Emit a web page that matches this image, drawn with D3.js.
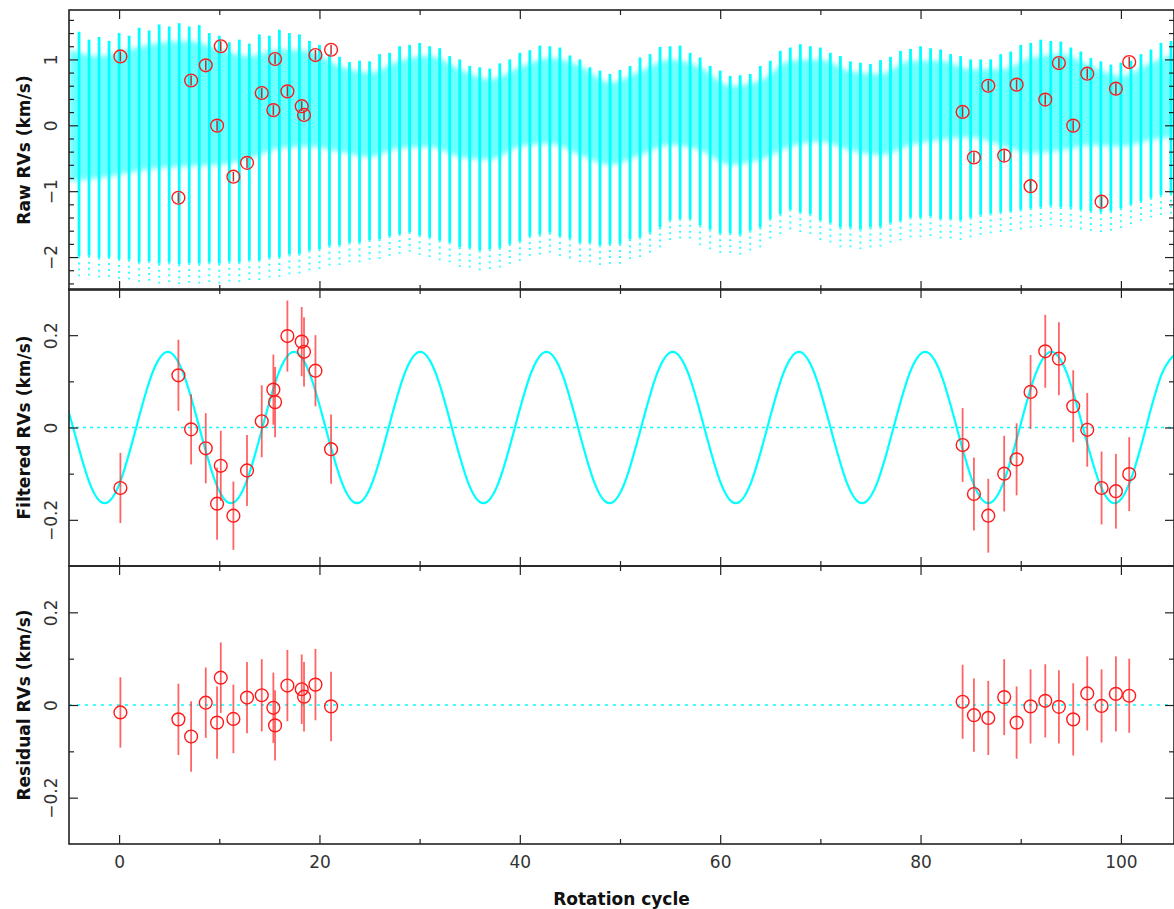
<!DOCTYPE html>
<html><head><meta charset="utf-8">
<script src="https://cdn.jsdelivr.net/npm/d3@7"></script>
<style>
body{margin:0;background:#fff}
svg{display:block}
text{font-family:"DejaVu Sans",sans-serif}
</style>
</head><body>
<svg id="c" width="1174" height="909"></svg>
<script>
// ---------------- data ----------------
const obsCycle = [0.13, 5.92, 7.19, 8.65, 9.78, 10.15, 11.41, 12.77, 14.24, 15.40, 15.57, 16.80, 18.23, 18.46, 19.60, 21.16,
  84.20, 85.33, 86.76, 88.35, 89.59, 90.98, 92.45, 93.81, 95.24, 96.64, 98.07, 99.50, 100.83];
const rawRV = [1.045, -1.10, 0.68, 0.91, -0.005, 1.20, -0.78, -0.57, 0.49, 0.23, 1.006, 0.515, 0.29, 0.157, 1.066, 1.147,
  0.203, -0.489, 0.60, -0.46, 0.617, -0.924, 0.39, 0.945, -0.005, 0.783, -1.16, 0.556, 0.96];
const filteredRV = [-0.131, 0.113, -0.004, -0.045, -0.165, -0.083, -0.191, -0.093, 0.0135, 0.082, 0.055, 0.198, 0.186, 0.164, 0.123, -0.047,
  -0.038, -0.144, -0.191, -0.100, -0.069, 0.077, 0.165, 0.149, 0.046, -0.005, -0.131, -0.138, -0.101];
const residualRV = [-0.016, -0.031, -0.068, 0.005, -0.038, 0.059, -0.030, 0.016, 0.021, -0.006, -0.044, 0.042, 0.034, 0.018, 0.044, -0.003,
  0.007, -0.022, -0.028, 0.017, -0.038, -0.003, 0.009, -0.004, -0.031, 0.025, -0.002, 0.024, 0.020];
const rvError = [0.076, 0.077, 0.076, 0.076, 0.078, 0.076, 0.074, 0.077, 0.078, 0.076, 0.076, 0.077, 0.075, 0.075, 0.077, 0.075,
  0.080, 0.079, 0.080, 0.082, 0.078, 0.080, 0.079, 0.079, 0.078, 0.080, 0.079, 0.081, 0.080];

const modelCycle = [-6.165, -4.59, -3.015, -1.44, 0.135, 1.71, 3.285, 4.86, 6.435, 8.01, 9.585, 11.16, 12.735, 14.31, 15.885, 17.46, 19.035,
  20.61, 22.185, 23.76, 25.335, 26.91, 28.485, 30.06, 31.635, 33.21, 34.785, 36.36, 37.935, 39.51, 41.085, 42.66, 44.235,
  45.81, 47.385, 48.96, 50.535, 52.11, 53.685, 55.26, 56.835, 58.41, 59.985, 61.56, 63.135, 64.71, 66.285, 67.86, 69.435,
  71.01, 72.585, 74.16, 75.735, 77.31, 78.885, 80.46, 82.035, 83.61, 85.185, 86.76, 88.335, 89.91, 91.485, 93.06, 94.635,
  96.21, 97.785, 99.36, 100.935, 102.51, 104.085, 105.66];
const modelRV = [0.116, 0, -0.116, -0.164, -0.116, 0, 0.116, 0.164, 0.116, 0, -0.116, -0.164, -0.116, 0, 0.116, 0.164, 0.116,
  0, -0.116, -0.164, -0.116, 0, 0.116, 0.164, 0.116, 0, -0.116, -0.164, -0.116, 0, 0.116, 0.164, 0.116,
  0, -0.116, -0.164, -0.116, 0, 0.116, 0.164, 0.116, 0, -0.116, -0.164, -0.116, 0, 0.116, 0.164, 0.116,
  0, -0.116, -0.164, -0.116, 0, 0.116, 0.164, 0.116, 0, -0.116, -0.164, -0.116, 0, 0.116, 0.164, 0.116,
  0, -0.116, -0.164, -0.116, 0, 0.116, 0.164];

// raw activity model: one streak per rotation cycle (top / bottom of each streak)
const streakCycle = d3.range(-4, 106);
const streakTop = [1.42, 1.30, 1.34, 1.28, 1.40, 1.36, 1.48, 1.44, 1.53, 1.50, 1.55, 1.50, 1.52, 1.40, 1.36, 1.26, 1.30, 1.24, 1.38, 1.36,
  1.45, 1.40, 1.38, 1.28, 1.22, 1.08, 1.04, 0.96, 0.98, 0.97, 1.08, 1.10, 1.20, 1.22, 1.25, 1.20, 1.17, 1.05, 1.00, 0.90,
  0.88, 0.86, 0.94, 1.00, 1.10, 1.14, 1.21, 1.20, 1.18, 1.06, 1.00, 0.88, 0.83, 0.78, 0.84, 0.90, 1.03, 1.08, 1.19, 1.20,
  1.21, 1.10, 1.03, 0.90, 0.83, 0.75, 0.76, 0.78, 0.90, 0.98, 1.13, 1.18, 1.23, 1.20, 1.18, 1.10, 1.05, 0.97, 0.95, 0.93,
  0.99, 1.04, 1.13, 1.16, 1.20, 1.17, 1.15, 1.08, 1.05, 1.00, 1.00, 1.00, 1.08, 1.12, 1.22, 1.25, 1.30, 1.28, 1.27, 1.18,
  1.12, 1.02, 0.97, 0.92, 0.95, 0.98, 1.08, 1.15, 1.25, 1.28];
const streakBottom = [-2.29, -2.28, -2.31, -2.30, -2.33, -2.34, -2.38, -2.36, -2.40, -2.38, -2.41, -2.39, -2.40, -2.38, -2.40, -2.37, -2.38, -2.35, -2.35, -2.31,
  -2.30, -2.26, -2.25, -2.20, -2.18, -2.13, -2.12, -2.08, -2.08, -2.04, -2.03, -1.98, -1.95, -1.92, -1.97, -2.00, -2.05, -2.08, -2.15, -2.16,
  -2.20, -2.18, -2.16, -2.10, -2.06, -1.98, -1.96, -1.93, -1.98, -2.02, -2.08, -2.08, -2.12, -2.10, -2.10, -2.03, -2.00, -1.93, -1.85, -1.74,
  -1.72, -1.72, -1.82, -1.88, -1.94, -1.94, -1.96, -1.90, -1.85, -1.72, -1.65, -1.58, -1.62, -1.65, -1.74, -1.78, -1.85, -1.85, -1.88, -1.85,
  -1.84, -1.78, -1.75, -1.70, -1.70, -1.68, -1.72, -1.72, -1.74, -1.70, -1.66, -1.64, -1.62, -1.60, -1.58, -1.56, -1.54, -1.52, -1.54, -1.55,
  -1.58, -1.60, -1.62, -1.60, -1.56, -1.50, -1.45, -1.40, -1.36, -1.34];
// dense part of the raw model between the streaks
const bandCycle = [-5, -2, 1, 4, 7, 10, 13, 16, 19, 22, 25, 28, 31, 34, 37, 40, 43, 46, 49, 52, 55, 58, 61, 64, 67, 70, 73, 76, 79, 82, 85, 88, 91, 94, 97, 100, 103, 105.3];
const bandHigh = [1.15, 1.05, 1.15, 1.25, 1.28, 1.15, 1.05, 1.15, 1.12, 0.9, 0.8, 0.98, 1.05, 0.85, 0.7, 0.88, 1.02, 0.9, 0.65, 0.82, 1.0, 0.88, 0.6, 0.68, 0.98, 1.0, 0.82, 0.78, 0.98, 0.98, 0.85, 0.85, 1.02, 1.08, 0.9, 0.75, 0.95, 1.08];
const bandLow = [-0.85, -0.8, -0.72, -0.65, -0.62, -0.6, -0.5, -0.35, -0.32, -0.4, -0.48, -0.35, -0.33, -0.48, -0.52, -0.32, -0.28, -0.45, -0.6, -0.45, -0.3, -0.38, -0.6, -0.52, -0.32, -0.25, -0.38, -0.45, -0.3, -0.22, -0.18, -0.3, -0.42, -0.38, -0.3, -0.32, -0.22, -0.18];

const xMajorTicks = [0, 20, 40, 60, 80, 100];
const xMinorTicks = [10, 30, 50, 70, 90];
const rawMajorTicks = [1, 0, -1, -2];
const rawMinorTicks = [1.6, 1.4, 1.2, 0.8, 0.6, 0.4, 0.2, -0.2, -0.4, -0.6, -0.8, -1.2, -1.4, -1.6, -1.8, -2.2, -2.4];
const rvMajorTicks = [0.2, 0, -0.2];
const rvMinorTicks = [0.1, -0.1];
const yTitles = ["Raw RVs (km/s)", "Filtered RVs (km/s)", "Residual RVs (km/s)"];
const xTitle = "Rotation cycle";

// ---------------- layout ----------------
const svg = d3.select('#c');
const L = 69, R = 1174;
const x = d3.scaleLinear().domain([-5, 105.3]).range([L, R]);
const panels = [
  {top: 10, bottom: 290, domain: [-2.5, 1.75], major: rawMajorTicks, minor: rawMinorTicks},
  {top: 289, bottom: 566, domain: [-0.3, 0.3], major: rvMajorTicks, minor: rvMinorTicks},
  {top: 566, bottom: 844, domain: [-0.3, 0.3], major: rvMajorTicks, minor: rvMinorTicks}
];
const defs = svg.append('defs');
defs.append('filter').attr('id', 'soft').attr('x', '-5%').attr('y', '-20%').attr('width', '110%').attr('height', '140%')
  .append('feGaussianBlur').attr('stdDeviation', 2.5);
panels.forEach((p, i) => {
  p.y = d3.scaleLinear().domain(p.domain).range([p.bottom, p.top]);
  defs.append('clipPath').attr('id', 'clip' + i).append('rect')
    .attr('x', L).attr('y', p.top).attr('width', R - L).attr('height', p.bottom - p.top);
});
const CYAN = '#00ffff';
const obs = obsCycle.map((c, i) => ({c, raw: rawRV[i], f: filteredRV[i], r: residualRV[i], e: rvError[i]}));

// ---------------- panel 1: raw RVs ----------------
{
  const p = panels[0], y = p.y;
  const g = svg.append('g').attr('clip-path', 'url(#clip0)');
  const band = bandCycle.map((c, i) => ({c, hi: bandHigh[i], lo: bandLow[i]}));
  const bandArea = d3.area().x(d => x(d.c)).y0(d => y(d.lo)).y1(d => y(d.hi)).curve(d3.curveMonotoneX);
  g.append('path').datum(band).attr('d', bandArea)
    .attr('fill', CYAN).attr('fill-opacity', 0.58).attr('filter', 'url(#soft)');
  const st = streakCycle.map((c, i) => ({c, t: streakTop[i], b: streakBottom[i]}));
  g.selectAll('.sk').data(st).enter().append('line')
    .attr('x1', d => x(d.c)).attr('x2', d => x(d.c))
    .attr('y1', d => y(d.t)).attr('y2', d => y(d.b + 0.3))
    .attr('stroke', CYAN).attr('stroke-width', 2.8);
  g.selectAll('.sd').data(st).enter().append('line')
    .attr('x1', d => x(d.c)).attr('x2', d => x(d.c))
    .attr('y1', d => y(d.b + 0.3)).attr('y2', d => y(d.b))
    .attr('stroke', CYAN).attr('stroke-width', 2).attr('stroke-dasharray', '2,4').attr('opacity', 0.8);
  g.selectAll('.eb').data(obs).enter().append('line')
    .attr('x1', d => x(d.c)).attr('x2', d => x(d.c))
    .attr('y1', d => y(d.raw - d.e)).attr('y2', d => y(d.raw + d.e))
    .attr('stroke', '#c03030').attr('stroke-width', 1.5);
  g.selectAll('.pt').data(obs).enter().append('circle')
    .attr('cx', d => x(d.c)).attr('cy', d => y(d.raw)).attr('r', 6.4)
    .attr('fill', 'none').attr('stroke', '#ff1a1a').attr('stroke-width', 1.4);
}

// ---------------- panel 2: filtered ----------------
{
  const p = panels[1], y = p.y;
  const g = svg.append('g').attr('clip-path', 'url(#clip1)');
  g.append('line').attr('x1', L).attr('x2', R).attr('y1', y(0)).attr('y2', y(0))
    .attr('stroke', CYAN).attr('stroke-width', 1.5).attr('stroke-dasharray', '3,4');
  const model = modelCycle.map((c, i) => ({c, v: modelRV[i]}));
  g.append('path').datum(model)
    .attr('d', d3.line().x(d => x(d.c)).y(d => y(d.v)).curve(d3.curveNatural))
    .attr('fill', 'none').attr('stroke', CYAN).attr('stroke-width', 2.2);
  g.selectAll('.eb').data(obs).enter().append('line')
    .attr('x1', d => x(d.c)).attr('x2', d => x(d.c))
    .attr('y1', d => y(d.f - d.e)).attr('y2', d => y(d.f + d.e))
    .attr('stroke', '#ff3030').attr('stroke-width', 1.8).attr('opacity', 0.75);
  g.selectAll('.pt').data(obs).enter().append('circle')
    .attr('cx', d => x(d.c)).attr('cy', d => y(d.f)).attr('r', 6.4)
    .attr('fill', 'none').attr('stroke', '#ff1a1a').attr('stroke-width', 1.4);
}

// ---------------- panel 3: residuals ----------------
{
  const p = panels[2], y = p.y;
  const g = svg.append('g').attr('clip-path', 'url(#clip2)');
  g.append('line').attr('x1', L).attr('x2', R).attr('y1', y(0)).attr('y2', y(0))
    .attr('stroke', CYAN).attr('stroke-width', 1.6).attr('stroke-dasharray', '3,5');
  g.selectAll('.eb').data(obs).enter().append('line')
    .attr('x1', d => x(d.c)).attr('x2', d => x(d.c))
    .attr('y1', d => y(d.r - d.e)).attr('y2', d => y(d.r + d.e))
    .attr('stroke', '#ff3030').attr('stroke-width', 1.8).attr('opacity', 0.75);
  g.selectAll('.pt').data(obs).enter().append('circle')
    .attr('cx', d => x(d.c)).attr('cy', d => y(d.r)).attr('r', 6.4)
    .attr('fill', 'none').attr('stroke', '#ff1a1a').attr('stroke-width', 1.4);
}

// ---------------- axes ----------------
const AX = '#222';
function styleAxis(sel) {
  sel.select('.domain').remove();
  sel.selectAll('line').attr('stroke', AX).attr('stroke-width', 1.2);
}
panels.forEach((p, i) => {
  svg.append('rect').attr('x', L).attr('y', p.top).attr('width', R - L).attr('height', p.bottom - p.top)
    .attr('fill', 'none').attr('stroke', AX).attr('stroke-width', 1.6);
  [[p.bottom, d3.axisBottom], [p.top, d3.axisTop]].forEach(([yy, fn]) => {
    svg.append('g').attr('transform', `translate(0,${yy})`)
      .call(fn(x).tickValues(xMajorTicks).tickSize(-9).tickSizeOuter(0).tickFormat(''))
      .call(styleAxis);
    svg.append('g').attr('transform', `translate(0,${yy})`)
      .call(fn(x).tickValues(xMinorTicks).tickSize(-5).tickSizeOuter(0).tickFormat(''))
      .call(styleAxis);
  });
  const la = svg.append('g').attr('transform', `translate(${L},0)`)
    .call(d3.axisLeft(p.y).tickValues(p.major).tickSize(-9).tickSizeOuter(0).tickFormat(d3.format('~g')))
    .call(styleAxis);
  la.selectAll('text')
    .attr('x', null).attr('dy', null).attr('text-anchor', 'middle')
    .attr('transform', 'translate(-12,0) rotate(-90)')
    .attr('font-size', 17).attr('fill', '#333').attr('font-family', '"DejaVu Sans",sans-serif');
  svg.append('g').attr('transform', `translate(${L},0)`)
    .call(d3.axisLeft(p.y).tickValues(p.minor).tickSize(-5).tickSizeOuter(0).tickFormat(''))
    .call(styleAxis);
  svg.append('g').attr('transform', `translate(${R},0)`)
    .call(d3.axisRight(p.y).tickValues(p.major).tickSize(-9).tickSizeOuter(0).tickFormat(''))
    .call(styleAxis);
  svg.append('g').attr('transform', `translate(${R},0)`)
    .call(d3.axisRight(p.y).tickValues(p.minor).tickSize(-5).tickSizeOuter(0).tickFormat(''))
    .call(styleAxis);
  svg.append('text')
    .attr('transform', `translate(30,${(p.top + p.bottom) / 2}) rotate(-90)`)
    .attr('text-anchor', 'middle').attr('font-size', 17).attr('font-weight', 'bold').attr('fill', '#111')
    .text(yTitles[i]);
});
const xl = svg.append('g').attr('transform', `translate(0,${panels[2].bottom})`)
  .call(d3.axisBottom(x).tickValues(xMajorTicks).tickSize(0).tickPadding(12).tickFormat(d3.format('d')));
xl.select('.domain').remove();
xl.selectAll('text').attr('font-size', 17).attr('fill', '#333').attr('font-family', '"DejaVu Sans",sans-serif');
svg.append('text').attr('x', (L + R) / 2).attr('y', 905).attr('text-anchor', 'middle')
  .attr('font-size', 17).attr('font-weight', 'bold').attr('fill', '#111').text(xTitle);
</script>
</body></html>
